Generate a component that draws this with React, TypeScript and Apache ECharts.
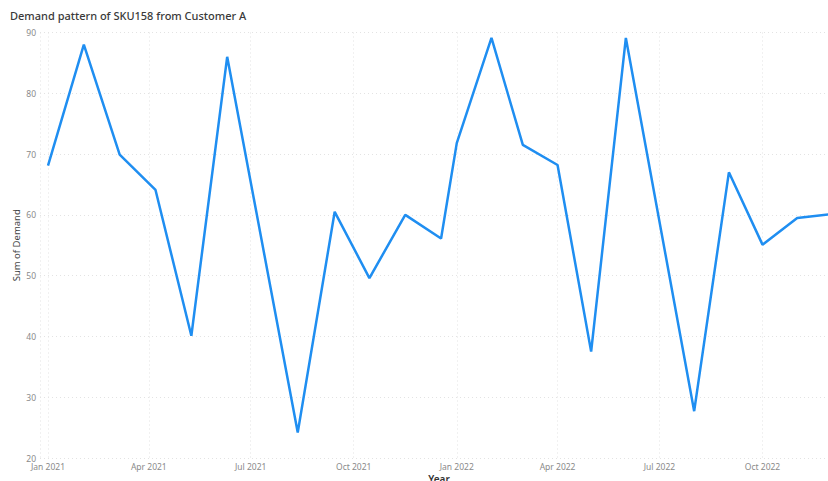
import React, { useEffect, useRef } from "react";
import * as echarts from "echarts";

const DAY = 86400000;
const d = (y: number, m: number, day: number) => Date.UTC(y, m - 1, day);

const dates: number[] = [
  d(2021, 1, 1), d(2021, 2, 2), d(2021, 3, 6), d(2021, 4, 7), d(2021, 5, 9), d(2021, 6, 10),
  d(2021, 8, 12), d(2021, 9, 14), d(2021, 10, 15), d(2021, 11, 16), d(2021, 12, 18),
  d(2022, 1, 1), d(2022, 2, 1), d(2022, 3, 1), d(2022, 4, 1), d(2022, 5, 1), d(2022, 6, 1),
  d(2022, 8, 1), d(2022, 9, 1), d(2022, 10, 1), d(2022, 11, 1), d(2022, 12, 1),
];
const demand: number[] = [
  68.1, 88.0, 69.9, 64.1, 40.1, 86.0,
  24.2, 60.5, 49.6, 60.0, 56.1,
  71.8, 89.1, 71.5, 68.2, 37.5, 89.1,
  27.7, 67.0, 55.1, 59.5, 60.1,
];
const monthNames = ["Jan", "Feb", "Mar", "Apr", "May", "Jun", "Jul", "Aug", "Sep", "Oct", "Nov", "Dec"];
const titleText = "Demand pattern of SKU158 from Customer A";
const yAxisName = "Sum of Demand";
const xAxisName = "Year";

export default function App() {
  const ref = useRef<HTMLDivElement>(null);
  useEffect(() => {
    if (!ref.current) return;
    const chart = echarts.init(ref.current, null, { renderer: "svg" });
    const font = "'Noto Sans', 'Open Sans', sans-serif";
    chart.setOption({
      animation: false,
      useUTC: true,
      backgroundColor: "#ffffff",
      title: {
        text: titleText,
        left: 10,
        top: 10,
        padding: 0,
        textStyle: { fontFamily: font, fontSize: 11, fontWeight: 500, color: "#3a3a3a" },
      },
      grid: { left: 40, right: 0, top: 32.5, bottom: 23, containLabel: false, outerBoundsMode: "none" },
      xAxis: {
        type: "time",
        min: d(2021, 1, 1) - 7.15 * DAY,
        max: d(2021, 1, 1) + 696.5 * DAY,
        minInterval: 88 * DAY,
        maxInterval: 93 * DAY,
        name: xAxisName,
        nameLocation: "middle",
        nameGap: 16,
        nameMoveOverlap: false,
        nameTextStyle: { fontFamily: font, fontSize: 10, fontWeight: 600, color: "#333", padding: [0, 0, 0, 10] },
        axisLine: { show: false },
        axisTick: { show: false },
        axisLabel: {
          fontFamily: font,
          fontSize: 8.5,
          color: "#8a8a8a",
          margin: 4,
          showMinLabel: false,
          showMaxLabel: false,
          formatter: (v: number) => {
            const dt = new Date(v);
            return monthNames[dt.getUTCMonth()] + " " + dt.getUTCFullYear();
          },
        },
        splitLine: { show: true, lineStyle: { color: "#e3e3e3", type: [1, 3], width: 1 } },
      },
      yAxis: {
        type: "value",
        min: 20,
        max: 90,
        interval: 10,
        name: yAxisName,
        nameLocation: "middle",
        nameGap: 19,
        nameMoveOverlap: false,
        nameTextStyle: { fontFamily: font, fontSize: 9.5, color: "#444" },
        axisLine: { show: false },
        axisTick: { show: false },
        axisLabel: { fontFamily: font, fontSize: 8.5, color: "#8a8a8a", margin: 4 },
        splitLine: { show: true, lineStyle: { color: "#e3e3e3", type: [1, 3], width: 1 } },
      },
      series: [
        {
          type: "line",
          data: dates.map((t, i) => [t, demand[i]]),
          showSymbol: false,
          symbol: "none",
          lineStyle: { color: "#1f8ef1", width: 2.5 },
          itemStyle: { color: "#1f8ef1" },
        },
      ],
    });
    return () => chart.dispose();
  }, []);
  return (
    <div
      ref={ref}
      style={{ position: "fixed", left: 0, top: 0, width: 828, height: 481 }}
    />
  );
}
